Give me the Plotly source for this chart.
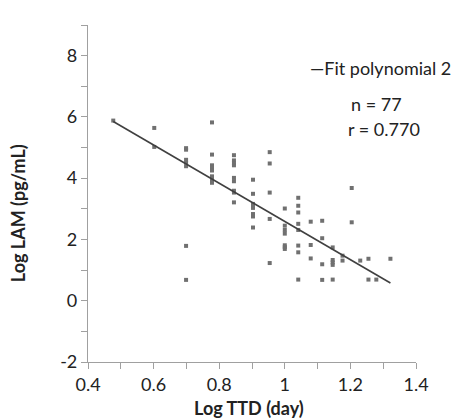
import plotly.graph_objects as go

# log10 of time to detection (days) and log LAM
ttd_x = [0.477,
         0.602, 0.602,
         0.699, 0.699, 0.699, 0.699, 0.699, 0.699, 0.699,
         0.778, 0.778, 0.778, 0.778, 0.778, 0.778, 0.778, 0.778,
         0.845, 0.845, 0.845, 0.845, 0.845, 0.845, 0.845, 0.845, 0.845,
         0.903, 0.903, 0.903, 0.903, 0.903, 0.903, 0.903, 0.903,
         0.954, 0.954, 0.954, 0.954, 0.954,
         1.0, 1.0, 1.0, 1.0, 1.0, 1.0, 1.0,
         1.041, 1.041, 1.041, 1.041, 1.041, 1.041, 1.041, 1.041,
         1.079, 1.079, 1.079,
         1.114, 1.114, 1.114, 1.114,
         1.146, 1.146, 1.146, 1.146, 1.146,
         1.176, 1.176,
         1.204, 1.204,
         1.230,
         1.255, 1.255,
         1.279,
         1.322]
lam_y = [5.88,
         5.64, 5.02,
         4.98, 4.93, 4.60, 4.51, 4.39, 1.79, 0.68,
         5.82, 4.77, 4.42, 4.34, 4.25, 4.06, 3.96, 3.85,
         4.75, 4.58, 4.49, 4.42, 4.01, 3.90, 3.59, 3.53, 3.21,
         3.95, 3.49, 3.16, 3.09, 3.03, 2.83, 2.75, 2.39,
         4.85, 4.48, 3.53, 2.67, 1.23,
         3.01, 2.45, 2.31, 2.19, 1.81, 1.75, 1.69,
         3.36, 3.10, 2.88, 2.51, 2.31, 1.80, 1.58, 0.69,
         2.58, 1.82, 1.38,
         2.61, 2.04, 1.19, 0.68,
         1.74, 1.33, 1.25, 1.17, 0.69,
         1.47, 1.31,
         3.68, 2.56,
         1.31,
         1.37, 0.69,
         0.69,
         1.37]

fit_x = [0.477, 1.322]
fit_y = [5.85, 0.58]

x_ticks = [0.4, 0.6, 0.8, 1.0, 1.2, 1.4]
x_labels = ["0.4", "0.6", "0.8", "1", "1.2", "1.4"]
y_ticks = [-2, 0, 2, 4, 6, 8]
y_labels = ["-2", "0", "2", "4", "6", "8"]

font_name = "Lato, Open Sans, sans-serif"
axis_grey = "#a0a0a0"

fig = go.Figure()
fig.add_trace(go.Scatter(x=ttd_x, y=lam_y, mode="markers",
                         marker=dict(symbol="square", size=4, color="#707070"),
                         showlegend=False))
fig.add_trace(go.Scatter(x=fit_x, y=fit_y, mode="lines",
                         line=dict(color="#404040", width=1.6),
                         name="Fit polynomial 2", showlegend=False))

fig.update_xaxes(range=[0.4, 1.4], tickvals=x_ticks, ticktext=x_labels,
                 showgrid=False, zeroline=False, automargin=False,
                 showline=True, linecolor=axis_grey, linewidth=1.2,
                 ticks="outside", ticklen=6, tickcolor=axis_grey,
                 minor=dict(dtick=0.1, ticks="outside", ticklen=6, tickcolor=axis_grey),
                 tickfont=dict(size=18, color="#222"))
fig.update_yaxes(range=[-2, 9], tickvals=y_ticks, ticktext=y_labels,
                 showgrid=False, zeroline=False, automargin=False,
                 showline=True, linecolor=axis_grey, linewidth=1.2,
                 ticks="outside", ticklen=6, tickcolor=axis_grey,
                 minor=dict(dtick=1, ticks="outside", ticklen=6, tickcolor=axis_grey),
                 tickfont=dict(size=18, color="#222"))

# axis titles
fig.add_annotation(text="<b>Log TTD (day)</b>", xref="paper", yref="paper",
                   x=0.491, y=-0.137, xanchor="center", yanchor="middle",
                   showarrow=False, font=dict(size=18, color="#222"))
fig.add_annotation(text="<b>Log LAM (pg/mL)</b>", xref="paper", yref="paper",
                   x=-0.213, y=0.442, xanchor="center", yanchor="middle",
                   textangle=-90, showarrow=False, font=dict(size=18, color="#222"))

# legend and stats text
fig.add_annotation(text="\u2014Fit polynomial 2", xref="paper", yref="paper",
                   x=0.672, y=0.872, xanchor="left", yanchor="middle", showarrow=False,
                   font=dict(size=18, color="#222"))
fig.add_annotation(text="n = 77", xref="paper", yref="paper",
                   x=0.797, y=0.766, xanchor="left", yanchor="middle", showarrow=False,
                   font=dict(size=18, color="#222"))
fig.add_annotation(text="r = 0.770", xref="paper", yref="paper",
                   x=0.787, y=0.691, xanchor="left", yanchor="middle", showarrow=False,
                   font=dict(size=18, color="#222"))

# page body adds an 8px offset, so the figure is 8px smaller on each side
fig.update_layout(width=462, height=410,
                  margin=dict(l=80, r=54, t=17, b=56),
                  paper_bgcolor="white", plot_bgcolor="white",
                  font=dict(family=font_name, color="#222"))

fig.write_html("out.html")
